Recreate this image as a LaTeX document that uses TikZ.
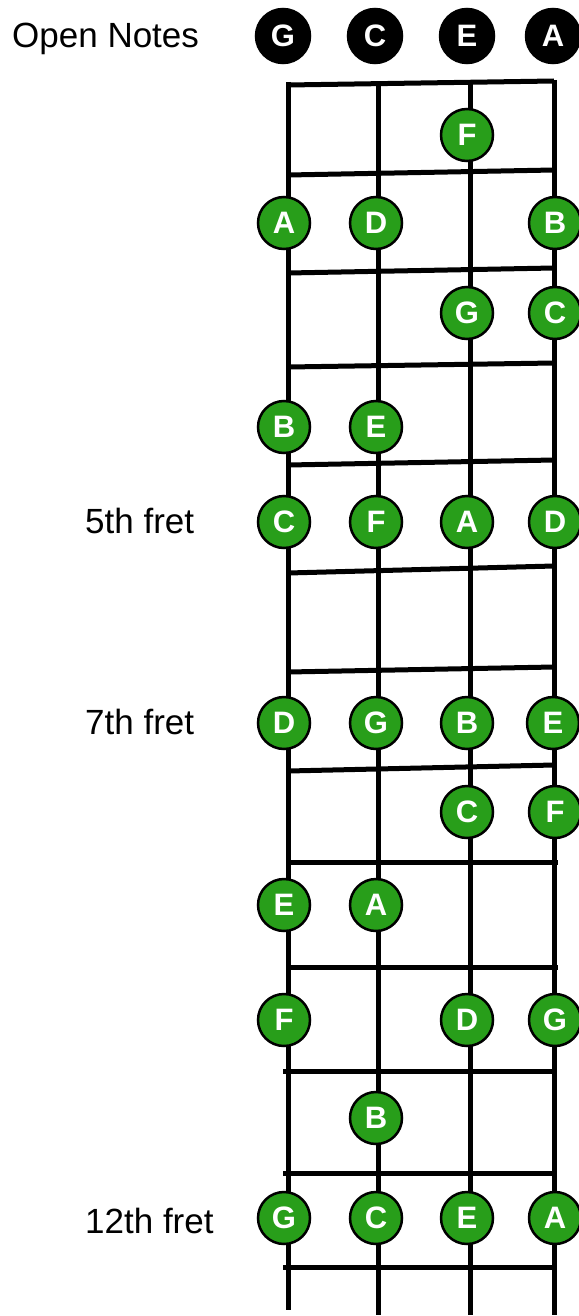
\documentclass[tikz,border=0pt]{standalone}
\usepackage{fontspec}
\setmainfont{Liberation Sans}
\definecolor{notegreen}{RGB}{40,158,26}
\begin{document}
\begin{tikzpicture}[x=1pt,y=-1pt,
  note/.style={circle,fill=notegreen,draw=black,line width=2.5pt,minimum size=52pt,inner sep=0pt,text=white,font=\fontsize{31}{31}\selectfont\bfseries},
  opennote/.style={circle,fill=black,draw=black,line width=2.5pt,minimum size=54pt,inner sep=0pt,text=white,font=\fontsize{31}{31}\selectfont\bfseries},
  stringline/.style={line width=5pt},
  fretline/.style={line width=5pt},
  fretlabel/.style={anchor=base west,inner sep=0pt,font=\fontsize{35}{35}\selectfont}]
\useasboundingbox (0,0) rectangle (578,1316);
% strings
\coordinate (gt) at (288,82);  \coordinate (gb) at (288,1310);
\coordinate (ct) at (378,82);  \coordinate (cb) at (378,1315);
\coordinate (et) at (470,82);  \coordinate (eb) at (470,1315);
\coordinate (at) at (554,80);  \coordinate (ab) at (554,1315);
\draw[stringline] (gt) -- (gb);
\draw[stringline] (ct) -- (cb);
\draw[stringline] (et) -- (eb);
\draw[stringline] (at) -- (ab);
% frets (left y, right y, left x, right x)
\foreach \ly/\ry/\lx/\rx in {85/81/288/554, 175/170/288/554, 273/268/288/554, 367/363/288/554,
  465/460/288/554, 573/566/288/554, 672/667/288/554, 771/765/288/554, 862/862/288/558,
  967/967/288/558, 1071/1071/283/554, 1173/1173/283/554, 1267/1267/283/554}
  \draw[fretline] (\lx,\ly) -- (\rx,\ry);
% labels
\node[fretlabel] (lopen) at (12,48) {Open Notes};
\node[fretlabel] (l5) at (85,533) {5th fret};
\node[fretlabel] (l7) at (85,734) {7th fret};
\node[fretlabel] (l12) at (85,1233) {12th fret};
% open notes
\node[opennote] (oG) at (283,36) {G};
\node[opennote] (oC) at (375,36) {C};
\node[opennote] (oE) at (467,36) {E};
\node[opennote] (oA) at (553,36) {A};
% fretted notes
\node[note] (n1E) at (467,135) {F};
\node[note] (n2G) at (284,223) {A};
\node[note] (n2C) at (376,223) {D};
\node[note] (n2A) at (555,223) {B};
\node[note] (n3E) at (467,313) {G};
\node[note] (n3A) at (555,313) {C};
\node[note] (n4G) at (284,427) {B};
\node[note] (n4C) at (376,427) {E};
\node[note] (n5G) at (284,522) {C};
\node[note] (n5C) at (376,522) {F};
\node[note] (n5E) at (467,522) {A};
\node[note] (n5A) at (555,522) {D};
\node[note] (n7G) at (284,723) {D};
\node[note] (n7C) at (376,723) {G};
\node[note] (n7E) at (467,723) {B};
\node[note] (n7A) at (553,723) {E};
\node[note] (n8E) at (467,812) {C};
\node[note] (n8A) at (555,812) {F};
\node[note] (n9G) at (284,905) {E};
\node[note] (n9C) at (376,905) {A};
\node[note] (n10G) at (284,1020) {F};
\node[note] (n10E) at (467,1020) {D};
\node[note] (n10A) at (555,1020) {G};
\node[note] (n11C) at (376,1118) {B};
\node[note] (n12G) at (284,1218) {G};
\node[note] (n12C) at (376,1218) {C};
\node[note] (n12E) at (467,1218) {E};
\node[note] (n12A) at (555,1218) {A};
\end{tikzpicture}
\end{document}
